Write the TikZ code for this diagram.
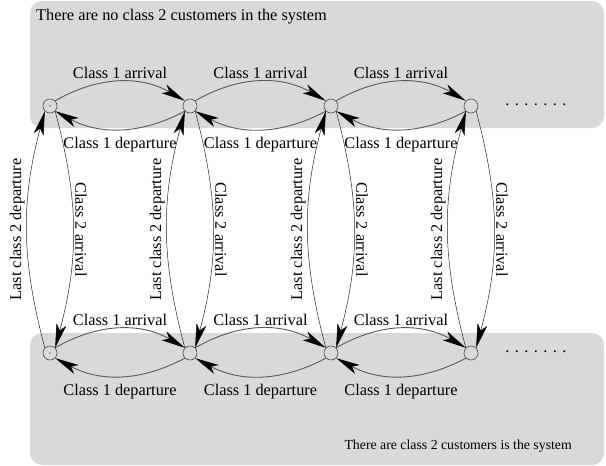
\documentclass[tikz,border=0pt]{standalone}
\usepackage{fontspec}
\setmainfont{Liberation Serif}
\usetikzlibrary{arrows.meta}
\definecolor{lg}{rgb}{.85,.85,.85}

\begin{document}
\begin{tikzpicture}[
    x=1pt, y=1pt,
    every node/.style={font=\fontsize{16.3}{19}\selectfont, inner sep=2pt},
    st/.style={circle, draw=black!70, line width=.6pt, minimum size=14pt, inner sep=0pt},
    hor/.style={draw=black!65, line width=.9pt,
      -{Stealth[length=24pt, width=10pt, inset=6pt, black]}},
    ver/.style={draw=black!85, line width=.5pt,
      -{Stealth[length=24pt, width=10pt, inset=6pt, black]}}]

      \useasboundingbox (0,0) rectangle (606,-466);

      % shaded regions
      \fill[lg, rounded corners=12pt] (30,-1) rectangle (604,-128);
      \fill[lg, rounded corners=12pt] (30,-333) rectangle (604,-465);

      \node[anchor=west] (notxt) at (34,-17) {There are no class 2 customers in the system};
      \node[anchor=east, font=\fontsize{13.8}{16}\selectfont] (istxt) at (574,-446) {There are class 2 customers is the system};

      % states
      \foreach \i/\x in {0/50, 1/190, 2/331, 3/471} {
        \node[st] (t\i) at (\x,-106) {};
        \node[st] (b\i) at (\x,-353) {};
      }
      \fill (t0) circle (.7pt);
      \fill (b0) circle (.7pt);

      \node (tdots) at (536,-105) {. . . . . . .};
      \node (bdots) at (536,-352) {. . . . . . .};

      % class 1 arrivals and departures
      \foreach \i/\j in {0/1, 1/2, 2/3} {
        \draw[hor] (t\i.45) to[bend left=30] node[above=1pt] (ta\i) {Class 1 arrival} (t\j.135);
        \draw[hor] (t\j.-135) to[bend left=28] node[below=6pt] (td\i) {Class 1 departure} (t\i.-45);
        \draw[hor] (b\i.45) to[bend left=30] node[above=1pt] (ba\i) {Class 1 arrival} (b\j.135);
        \draw[hor] (b\j.-135) to[bend left=28] node[below=6pt] (bd\i) {Class 1 departure} (b\i.-45);
      }

      % class 2 arrivals and last departures
      \foreach \i in {0,...,3} {
        \draw[ver] (t\i.-45) to[bend left=15] node[rotate=-90, anchor=south] (ca\i) {Class 2 arrival} (b\i.45);
        \draw[ver] (b\i.135) to[bend left=15] node[rotate=90, anchor=south] (ld\i) {Last class 2 departure} (t\i.-135);
      }

    \end{tikzpicture}
\end{document}
